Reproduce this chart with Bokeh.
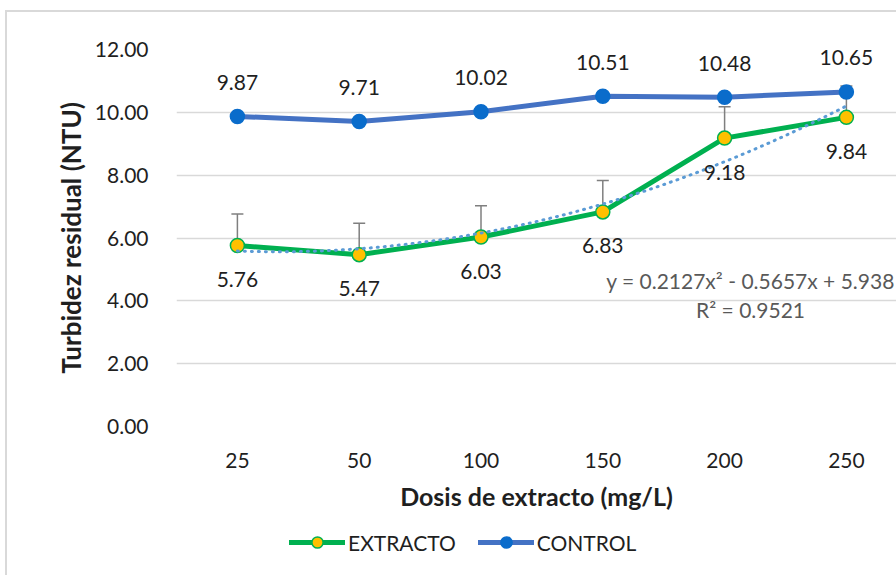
import numpy as np
from bokeh.plotting import figure
from bokeh.layouts import column
from bokeh.core.properties import value
from bokeh.models import (Range1d, FixedTicker, PrintfTickFormatter, ColumnDataSource,
                          LabelSet, Label, Legend, LegendItem, Whisker, TeeHead)
from bokeh.embed import file_html
from bokeh.resources import INLINE

# ---- data ----
categories = ["25", "50", "100", "150", "200", "250"]
extracto = [5.76, 5.47, 6.03, 6.83, 9.18, 9.84]
control = [9.87, 9.71, 10.02, 10.51, 10.48, 10.65]
extracto_err = [1.0, 1.0, 1.0, 1.0, 1.0, 1.0]
y_ticks = [0, 2, 4, 6, 8, 10, 12]
equation_text = "y = 0.2127x\u00b2 - 0.5657x + 5.938"
r2_text = "R\u00b2 = 0.9521"

FONT = "Lato"
TXT = "#1f1f1f"
GREEN, YELLOW, BLUE_LINE, BLUE_MK = "#00b050", "#ffc000", "#4472c4", "#0a6ccb"

xi = np.arange(len(categories)) + 0.5
src_e = ColumnDataSource(dict(x=xi, y=extracto, lab=[f"{v:.2f}" for v in extracto],
                              up=np.array(extracto) + np.array(extracto_err)))
src_c = ColumnDataSource(dict(x=xi, y=control, lab=[f"{v:.2f}" for v in control]))

# polynomial trendline (order 2) fitted on EXTRACTO, x = 1..n like a spreadsheet
coef = np.polyfit(np.arange(1, len(extracto) + 1), extracto, 2)
xt = np.linspace(1, len(extracto), 200)
yt = np.polyval(coef, xt)
src_t = ColumnDataSource(dict(x=xt - 0.5, y=yt))

p = figure(width=889, height=508, output_backend="svg", toolbar_location=None,
           x_range=Range1d(0, 720 / 121.8), y_range=Range1d(0, 12),
           min_border_left=169, min_border_right=0, min_border_top=37, min_border_bottom=94)
p.outline_line_color = None
p.background_fill_color = "white"
p.border_fill_color = "white"

# axes
p.yaxis.ticker = FixedTicker(ticks=y_ticks)
p.yaxis.formatter = PrintfTickFormatter(format="%.2f")
p.xaxis.ticker = FixedTicker(ticks=list(xi))
p.xaxis.major_label_overrides = {float(x): c for x, c in zip(xi, categories)}
for ax in (p.xaxis, p.yaxis):
    ax.axis_line_color = None
    ax.major_tick_line_color = None
    ax.minor_tick_line_color = None
    ax.major_label_text_font = FONT
    ax.major_label_text_font_size = "21px"
    ax.major_label_text_color = TXT
    ax.axis_label_text_font = FONT
    ax.axis_label_text_font_style = "bold"
    ax.axis_label_text_color = TXT
p.xaxis.axis_label_text_font_size = "25px"
p.yaxis.axis_label_text_font_size = "26px"
p.yaxis.major_label_standoff = 22
p.xaxis.major_label_standoff = 20
p.yaxis.axis_label = "Turbidez residual (NTU)"
p.xaxis.axis_label = "Dosis de extracto (mg/L)"
p.yaxis.axis_label_standoff = 5
p.xaxis.axis_label_standoff = 10

p.xgrid.grid_line_color = None
p.ygrid.grid_line_color = "#d9d9d9"
p.ygrid.grid_line_width = 1.3

# error bars
wh = Whisker(source=src_e, base="x", lower="y", upper="up", dimension="height",
             line_color="#7f7f7f", line_width=1.5, lower_head=None,
             upper_head=TeeHead(size=12, line_color="#7f7f7f", line_width=1.5),
             level="underlay")
p.add_layout(wh)

# EXTRACTO
p.line("x", "y", source=src_e, line_color=GREEN, line_width=5, line_join="round", line_cap="round")
p.scatter("x", "y", source=src_e, size=14, fill_color=YELLOW, line_color=GREEN, line_width=1.5)

# trendline
p.line("x", "y", source=src_t, line_color="#5b9bd5", line_width=3, line_dash="1 6", line_cap="round")

# CONTROL
p.line("x", "y", source=src_c, line_color=BLUE_LINE, line_width=5, line_join="round", line_cap="round")
p.scatter("x", "y", source=src_c, size=14, fill_color=BLUE_MK, line_color=BLUE_MK, line_width=1.5)

# data labels
p.add_layout(LabelSet(source=src_c, x="x", y="y", text="lab", y_offset=34, text_align="center",
                      text_baseline="middle", text_font=value(FONT), text_font_size=value("21px"),
                      text_color=TXT))
p.add_layout(LabelSet(source=src_e, x="x", y="y", text="lab", y_offset=-34, text_align="center",
                      text_baseline="middle", text_font=value(FONT), text_font_size=value("21px"),
                      text_color=TXT))

# trendline equation
p.add_layout(Label(x=4.713, y=4.647, text=equation_text, text_align="center", text_baseline="middle",
                   text_font=FONT, text_font_size="21px", text_color="#595959"))
p.add_layout(Label(x=4.713, y=3.724, text=r2_text, text_align="center", text_baseline="middle",
                   text_font=FONT, text_font_size="21px", text_color="#595959"))

# legend strip (own small figure so the legend is not clipped by the plot frame);
# its renderers use the real series, kept out of its visible y range
pl = figure(width=889, height=55, output_backend="svg", toolbar_location=None,
            x_range=Range1d(0, 720 / 121.8), y_range=Range1d(100, 101),
            x_axis_location=None, y_axis_location=None,
            min_border_left=169, min_border_right=0, min_border_top=0, min_border_bottom=0)
pl.outline_line_color = None
pl.grid.visible = False
le = pl.line("x", "y", source=src_e, line_color=GREEN, line_width=5, line_cap="round")
me = pl.scatter("x", "y", source=src_e, size=14, fill_color=YELLOW, line_color=GREEN, line_width=1.5)
lc = pl.line("x", "y", source=src_c, line_color=BLUE_LINE, line_width=5, line_cap="round")
mc = pl.scatter("x", "y", source=src_c, size=14, fill_color=BLUE_MK, line_color=BLUE_MK, line_width=1.5)
legend = Legend(items=[LegendItem(label="EXTRACTO", renderers=[le, me]),
                       LegendItem(label="CONTROL", renderers=[lc, mc])],
                orientation="horizontal", location=(113, 19),
                label_text_font=FONT, label_text_font_size="21px", label_text_color=TXT,
                glyph_width=56, glyph_height=28, label_standoff=3, spacing=22,
                padding=0, margin=0, border_line_color=None, background_fill_alpha=0)
pl.add_layout(legend, "center")

layout = column(p, pl, spacing=0, margin=(12, 0, 0, 7), styles={"outline": "2px solid #d9d9d9"})

open("out.html", "w").write(file_html(layout, INLINE))
